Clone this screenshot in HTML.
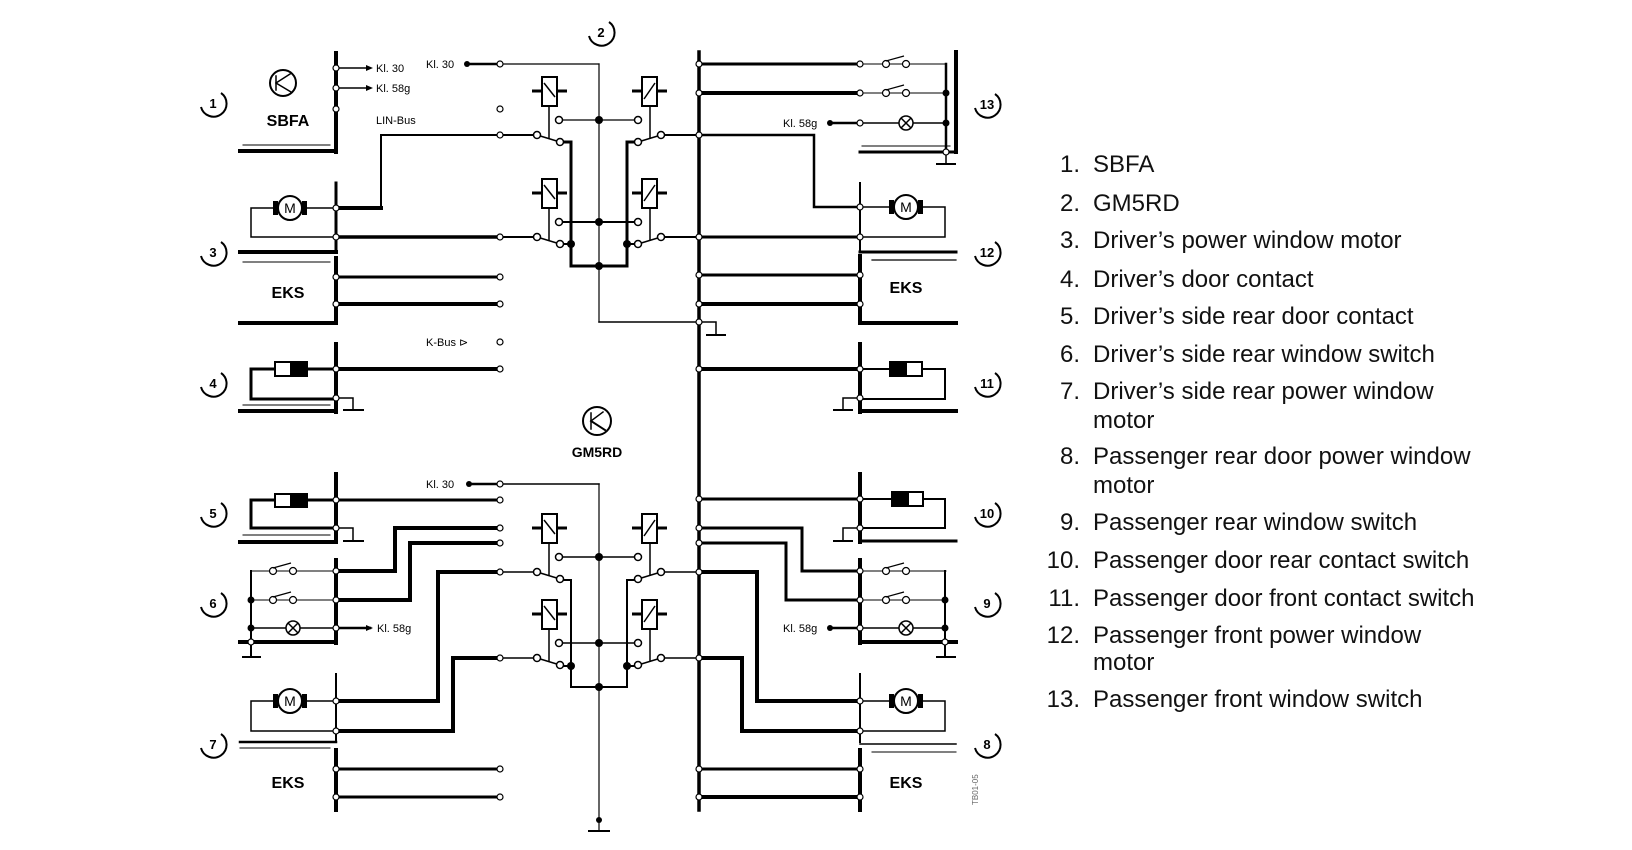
<!DOCTYPE html>
<html><head><meta charset="utf-8"><style>
html,body{margin:0;padding:0;background:#fff;}
svg{display:block;}
.l{font-family:"Liberation Sans",Arial,sans-serif;font-size:24px;fill:#111;}
.s{font-family:"Liberation Sans",Arial,sans-serif;font-size:11px;fill:#000;}
.b{font-family:"Liberation Sans",Arial,sans-serif;font-size:16px;font-weight:bold;fill:#000;}
.n{font-family:"Liberation Sans",Arial,sans-serif;font-size:13px;font-weight:bold;fill:#000;}
</style></head><body>
<svg width="1632" height="850" viewBox="0 0 1632 850" xmlns="http://www.w3.org/2000/svg">
<defs>
<g id="relL">
  <rect x="542" y="0" width="15" height="29" fill="#fff" stroke="#000" stroke-width="2"/>
  <line x1="544" y1="6" x2="555" y2="20" stroke="#000" stroke-width="1.5"/>
  <line x1="532" y1="14" x2="542" y2="14" stroke="#000" stroke-width="3"/>
  <line x1="557" y1="14" x2="567" y2="14" stroke="#000" stroke-width="3"/>
  <line x1="549" y1="29" x2="549" y2="62" stroke="#000" stroke-width="1.5"/>
  <line x1="537" y1="58" x2="560" y2="65" stroke="#000" stroke-width="1.5"/>
  <circle cx="559" cy="43" r="3.5" fill="#fff" stroke="#000" stroke-width="1.5"/>
  <circle cx="537" cy="58" r="3.5" fill="#fff" stroke="#000" stroke-width="1.5"/>
  <circle cx="560" cy="65" r="3.5" fill="#fff" stroke="#000" stroke-width="1.5"/>
</g>
<g id="relR">
  <rect x="642" y="0" width="15" height="29" fill="#fff" stroke="#000" stroke-width="2"/>
  <line x1="644" y1="22" x2="655" y2="6" stroke="#000" stroke-width="1.5"/>
  <line x1="632" y1="14" x2="642" y2="14" stroke="#000" stroke-width="3"/>
  <line x1="657" y1="14" x2="667" y2="14" stroke="#000" stroke-width="3"/>
  <line x1="650" y1="29" x2="650" y2="62" stroke="#000" stroke-width="1.5"/>
  <line x1="661" y1="58" x2="638" y2="65" stroke="#000" stroke-width="1.5"/>
  <circle cx="638" cy="43" r="3.5" fill="#fff" stroke="#000" stroke-width="1.5"/>
  <circle cx="661" cy="58" r="3.5" fill="#fff" stroke="#000" stroke-width="1.5"/>
  <circle cx="638" cy="65" r="3.5" fill="#fff" stroke="#000" stroke-width="1.5"/>
</g>
<g id="motor">
  <circle cx="0" cy="0" r="12" fill="#fff" stroke="#000" stroke-width="2"/>
  <rect x="-17" y="-7" width="5" height="14" fill="#000"/>
  <rect x="12" y="-7" width="5" height="14" fill="#000"/>
  <text x="0" y="5" text-anchor="middle" class="n" style="font-weight:normal;font-size:14px">M</text>
</g>
<g id="lamp">
  <circle cx="0" cy="0" r="7" fill="#fff" stroke="#000" stroke-width="1.5"/>
  <line x1="-5" y1="-5" x2="5" y2="5" stroke="#000" stroke-width="1.5"/>
  <line x1="-5" y1="5" x2="5" y2="-5" stroke="#000" stroke-width="1.5"/>
</g>
<g id="sw">
  <circle cx="-10" cy="0" r="3.5" fill="#fff" stroke="#000" stroke-width="1.2"/>
  <circle cx="10" cy="0" r="3.5" fill="#fff" stroke="#000" stroke-width="1.2"/>
  <line x1="-10" y1="-3" x2="8" y2="-8" stroke="#000" stroke-width="1.2"/>
</g>
<path id="arc" d="M 8 -10 A 13 13 0 1 1 -12 4" fill="none" stroke="#000" stroke-width="2"/>
</defs>

<g stroke="#000" fill="none" stroke-linecap="square">
<!-- ===== LEFT TOP: SBFA ===== -->
<line x1="336" y1="53" x2="336" y2="152" stroke-width="4"/>
<line x1="240" y1="151" x2="336" y2="151" stroke-width="4"/>
<line x1="243" y1="145" x2="330" y2="145" stroke-width="1"/>
<line x1="336" y1="68" x2="370" y2="68" stroke-width="1.5"/>
<line x1="336" y1="88" x2="370" y2="88" stroke-width="1.5"/>
<circle cx="283" cy="83" r="13" stroke-width="2" fill="#fff"/>
<line x1="276" y1="76" x2="276" y2="90" stroke-width="1.5"/>
<line x1="276" y1="83" x2="290" y2="74" stroke-width="1.5"/>
<line x1="276" y1="83" x2="291" y2="92" stroke-width="1.5"/>
<!-- Kl30 top -->
<line x1="467" y1="64" x2="500" y2="64" stroke-width="2.5"/>
<line x1="500" y1="64" x2="599" y2="64" stroke-width="1.2"/>
<line x1="599" y1="64" x2="599" y2="322" stroke-width="1.2"/>
<line x1="599" y1="322" x2="699" y2="322" stroke-width="1.5"/>
<!-- LIN bus -->
<polyline points="500,135 381,135 381,208 336,208" stroke-width="2"/>
<polyline points="336,208 251,208 251,237 336,237" stroke-width="1.5"/>
<line x1="336" y1="208" x2="381" y2="208" stroke-width="4"/>
<line x1="336" y1="237" x2="500" y2="237" stroke-width="3.5"/>
<line x1="336" y1="183" x2="336" y2="252" stroke-width="3"/>
<line x1="240" y1="252" x2="336" y2="252" stroke-width="4"/>
<line x1="243" y1="262" x2="330" y2="262" stroke-width="1"/>
<!-- EKS left top -->
<line x1="336" y1="258" x2="336" y2="323" stroke-width="4"/>
<line x1="240" y1="323" x2="336" y2="323" stroke-width="4"/>
<line x1="336" y1="277" x2="500" y2="277" stroke-width="3"/>
<line x1="336" y1="304" x2="500" y2="304" stroke-width="4"/>
<!-- door contact 4 -->
<line x1="336" y1="344" x2="336" y2="412" stroke-width="4"/>
<line x1="240" y1="411" x2="336" y2="411" stroke-width="4"/>
<line x1="243" y1="405" x2="330" y2="405" stroke-width="1"/>
<polyline points="336,369 251,369 251,399 336,399" stroke-width="3"/>
<line x1="336" y1="369" x2="500" y2="369" stroke-width="4"/>
<polyline points="336,398 353,398 353,410" stroke-width="1.5"/>
<line x1="344" y1="410" x2="363" y2="410" stroke-width="2"/>
<rect x="275" y="362" width="16" height="14" fill="#fff" stroke-width="2"/>
<rect x="291" y="362" width="16" height="14" fill="#000" stroke-width="2"/>

<!-- ===== RELAYS TOP ===== -->
<line x1="500" y1="135" x2="537" y2="135" stroke-width="2"/>
<line x1="661" y1="135" x2="699" y2="135" stroke-width="2"/>
<line x1="500" y1="237" x2="537" y2="237" stroke-width="2"/>
<line x1="661" y1="237" x2="699" y2="237" stroke-width="2"/>
<line x1="559" y1="120" x2="638" y2="120" stroke-width="1.2"/>
<line x1="559" y1="222" x2="638" y2="222" stroke-width="2"/>
<polyline points="564,142 571,142 571,266 627,266 627,142 634,142" stroke-width="3"/>
<line x1="564" y1="244" x2="571" y2="244" stroke-width="2"/>
<line x1="627" y1="244" x2="634" y2="244" stroke-width="2"/>

<!-- ===== RIGHT COLUMN ===== -->
<line x1="699" y1="52" x2="699" y2="810" stroke-width="3.5"/>
<!-- switch 13 -->
<line x1="956" y1="52" x2="956" y2="152" stroke-width="4"/>
<line x1="860" y1="152" x2="956" y2="152" stroke-width="3"/>
<line x1="862" y1="146" x2="950" y2="146" stroke-width="1"/>
<line x1="699" y1="64" x2="860" y2="64" stroke-width="3"/>
<line x1="699" y1="93" x2="860" y2="93" stroke-width="4"/>
<line x1="830" y1="123" x2="860" y2="123" stroke-width="2.5"/>
<line x1="860" y1="64" x2="946" y2="64" stroke-width="1"/>
<line x1="860" y1="93" x2="946" y2="93" stroke-width="1"/>
<line x1="860" y1="123" x2="946" y2="123" stroke-width="1.5"/>
<line x1="946" y1="64" x2="946" y2="152" stroke-width="2.5"/>
<polyline points="946,152 946,163" stroke-width="1.5"/>
<line x1="937" y1="164" x2="955" y2="164" stroke-width="2"/>
<!-- motor 12 -->
<polyline points="699,135 814,135 814,207 860,207" stroke-width="2.5"/>
<polyline points="860,207 945,207 945,237 860,237" stroke-width="1.5"/>
<line x1="699" y1="237" x2="860" y2="237" stroke-width="3"/>
<line x1="860" y1="183" x2="860" y2="252" stroke-width="2"/>
<line x1="860" y1="252" x2="956" y2="252" stroke-width="3"/>
<line x1="872" y1="260" x2="956" y2="260" stroke-width="1.2"/>
<!-- EKS right top -->
<line x1="860" y1="256" x2="860" y2="323" stroke-width="4"/>
<line x1="860" y1="323" x2="956" y2="323" stroke-width="4"/>
<line x1="699" y1="275" x2="860" y2="275" stroke-width="3"/>
<line x1="699" y1="304" x2="860" y2="304" stroke-width="4"/>
<polyline points="699,322 716,322 716,335" stroke-width="1.5"/>
<line x1="707" y1="335" x2="725" y2="335" stroke-width="2"/>
<!-- contact 11 -->
<line x1="860" y1="344" x2="860" y2="412" stroke-width="4"/>
<line x1="860" y1="411" x2="956" y2="411" stroke-width="4"/>
<line x1="699" y1="369" x2="860" y2="369" stroke-width="4"/>
<polyline points="860,369 945,369 945,399 860,399" stroke-width="2"/>
<polyline points="860,398 843,398 843,410" stroke-width="1.5"/>
<line x1="834" y1="410" x2="852" y2="410" stroke-width="2"/>
<rect x="890" y="362" width="16" height="14" fill="#000" stroke-width="2"/>
<rect x="906" y="362" width="16" height="14" fill="#fff" stroke-width="2"/>

<!-- ===== GM5RD symbol ===== -->
<circle cx="597" cy="421" r="14" stroke-width="2" fill="#fff"/>
<line x1="591" y1="413" x2="591" y2="429" stroke-width="1.5"/>
<line x1="591" y1="421" x2="603" y2="412" stroke-width="1.5"/>
<line x1="591" y1="421" x2="605" y2="430" stroke-width="2"/>

<!-- ===== LEFT BOTTOM ===== -->
<line x1="469" y1="484" x2="500" y2="484" stroke-width="2.5"/>
<line x1="500" y1="484" x2="599" y2="484" stroke-width="1.5"/>
<line x1="599" y1="484" x2="599" y2="831" stroke-width="1.2"/>
<line x1="589" y1="831" x2="609" y2="831" stroke-width="2"/>
<!-- contact 5 -->
<line x1="336" y1="474" x2="336" y2="542" stroke-width="4"/>
<line x1="240" y1="542" x2="336" y2="542" stroke-width="4"/>
<line x1="243" y1="535" x2="330" y2="535" stroke-width="1"/>
<polyline points="336,500 251,500 251,528 336,528" stroke-width="3"/>
<line x1="336" y1="500" x2="500" y2="500" stroke-width="3"/>
<polyline points="336,528 353,528 353,541" stroke-width="1.5"/>
<line x1="344" y1="541" x2="363" y2="541" stroke-width="2"/>
<rect x="275" y="494" width="16" height="13" fill="#fff" stroke-width="2"/>
<rect x="291" y="494" width="16" height="13" fill="#000" stroke-width="2"/>
<!-- switch 6 -->
<line x1="336" y1="560" x2="336" y2="643" stroke-width="4"/>
<line x1="240" y1="642" x2="336" y2="642" stroke-width="4"/>
<line x1="251" y1="571" x2="336" y2="571" stroke-width="1"/>
<line x1="251" y1="600" x2="336" y2="600" stroke-width="1"/>
<line x1="251" y1="628" x2="336" y2="628" stroke-width="1.5"/>
<line x1="251" y1="571" x2="251" y2="657" stroke-width="2"/>
<line x1="243" y1="657" x2="260" y2="657" stroke-width="2"/>
<line x1="336" y1="628" x2="370" y2="628" stroke-width="2.5"/>
<polyline points="336,571 395,571 395,528 500,528" stroke-width="4"/>
<polyline points="336,600 410,600 410,543 500,543" stroke-width="4"/>
<!-- motor 7 -->
<line x1="336" y1="674" x2="336" y2="742" stroke-width="2"/>
<polyline points="336,701 251,701 251,731 336,731" stroke-width="1.5"/>
<polyline points="336,701 438,701 438,572 500,572" stroke-width="4"/>
<polyline points="336,731 453,731 453,658 500,658" stroke-width="4"/>
<line x1="240" y1="742" x2="336" y2="742" stroke-width="2.5"/>
<line x1="240" y1="748" x2="330" y2="748" stroke-width="1"/>
<!-- EKS left bottom -->
<line x1="336" y1="750" x2="336" y2="810" stroke-width="4"/>
<line x1="336" y1="769" x2="500" y2="769" stroke-width="3"/>
<line x1="336" y1="797" x2="500" y2="797" stroke-width="3"/>

<!-- ===== RELAYS BOTTOM ===== -->
<line x1="500" y1="572" x2="537" y2="572" stroke-width="1.5"/>
<line x1="661" y1="572" x2="699" y2="572" stroke-width="1.5"/>
<line x1="500" y1="658" x2="537" y2="658" stroke-width="1.5"/>
<line x1="661" y1="658" x2="699" y2="658" stroke-width="1.5"/>
<line x1="559" y1="557" x2="638" y2="557" stroke-width="1.5"/>
<line x1="559" y1="643" x2="638" y2="643" stroke-width="1.5"/>
<polyline points="564,580 571,580 571,687 627,687 627,580 634,580" stroke-width="2"/>
<line x1="564" y1="666" x2="571" y2="666" stroke-width="2"/>
<line x1="627" y1="666" x2="634" y2="666" stroke-width="2"/>

<!-- ===== RIGHT BOTTOM ===== -->
<!-- contact 10 -->
<line x1="860" y1="474" x2="860" y2="542" stroke-width="4"/>
<line x1="860" y1="541" x2="956" y2="541" stroke-width="3"/>
<line x1="699" y1="499" x2="860" y2="499" stroke-width="3"/>
<polyline points="860,499 945,499 945,528 860,528" stroke-width="2"/>
<polyline points="860,528 843,528 843,541" stroke-width="1.5"/>
<line x1="834" y1="541" x2="852" y2="541" stroke-width="2"/>
<rect x="892" y="492" width="16" height="14" fill="#000" stroke-width="2"/>
<rect x="908" y="492" width="15" height="14" fill="#fff" stroke-width="2"/>
<!-- switch 9 -->
<polyline points="699,528 802,528 802,571 860,571" stroke-width="3"/>
<polyline points="699,543 786,543 786,600 860,600" stroke-width="3"/>
<line x1="860" y1="560" x2="860" y2="643" stroke-width="4"/>
<line x1="860" y1="642" x2="956" y2="642" stroke-width="4"/>
<line x1="860" y1="571" x2="946" y2="571" stroke-width="1"/>
<line x1="860" y1="600" x2="946" y2="600" stroke-width="1"/>
<line x1="860" y1="628" x2="946" y2="628" stroke-width="1.5"/>
<line x1="945" y1="571" x2="945" y2="655" stroke-width="2"/>
<line x1="937" y1="657" x2="955" y2="657" stroke-width="2"/>
<line x1="830" y1="628" x2="860" y2="628" stroke-width="2.5"/>
<!-- motor 8 -->
<polyline points="699,572 757,572 757,701 860,701" stroke-width="4"/>
<polyline points="699,658 742,658 742,731 860,731" stroke-width="4"/>
<polyline points="860,701 945,701 945,731 860,731" stroke-width="1.5"/>
<line x1="860" y1="674" x2="860" y2="742" stroke-width="2"/>
<line x1="860" y1="744" x2="956" y2="744" stroke-width="1.5"/>
<line x1="860" y1="750" x2="860" y2="810" stroke-width="4"/>
<line x1="872" y1="752" x2="956" y2="752" stroke-width="1"/>
<line x1="699" y1="769" x2="860" y2="769" stroke-width="3"/>
<line x1="699" y1="797" x2="860" y2="797" stroke-width="4"/>
</g>

<!-- relays -->
<use href="#relL" transform="translate(0,77)"/>
<use href="#relR" transform="translate(0,77)"/>
<use href="#relL" transform="translate(0,179)"/>
<use href="#relR" transform="translate(0,179)"/>
<use href="#relL" transform="translate(0,514)"/>
<use href="#relR" transform="translate(0,514)"/>
<use href="#relL" transform="translate(0,600)"/>
<use href="#relR" transform="translate(0,600)"/>

<!-- motors, lamps, switches -->
<use href="#motor" transform="translate(290,208)"/>
<use href="#motor" transform="translate(906,207)"/>
<use href="#motor" transform="translate(290,701)"/>
<use href="#motor" transform="translate(906,701)"/>
<use href="#lamp" transform="translate(293,628)"/>
<use href="#lamp" transform="translate(906,123)"/>
<use href="#lamp" transform="translate(906,628)"/>
<use href="#sw" transform="translate(283,571)"/>
<use href="#sw" transform="translate(283,600)"/>
<use href="#sw" transform="translate(896,64)"/>
<use href="#sw" transform="translate(896,93)"/>
<use href="#sw" transform="translate(896,571)"/>
<use href="#sw" transform="translate(896,600)"/>

<!-- dots -->
<g fill="#000">
<circle cx="599" cy="120" r="4"/><circle cx="599" cy="222" r="4"/><circle cx="571" cy="244" r="4"/><circle cx="627" cy="244" r="4"/><circle cx="599" cy="266" r="4"/>
<circle cx="599" cy="557" r="4"/><circle cx="599" cy="643" r="4"/><circle cx="571" cy="666" r="4"/><circle cx="627" cy="666" r="4"/><circle cx="599" cy="687" r="4"/><circle cx="599" cy="820" r="3"/>
<circle cx="251" cy="600" r="3.5"/><circle cx="251" cy="628" r="3.5"/><circle cx="945" cy="600" r="3.5"/><circle cx="945" cy="628" r="3.5"/><circle cx="946" cy="93" r="3.5"/><circle cx="946" cy="123" r="3.5"/>
<circle cx="467" cy="64" r="3"/><circle cx="469" cy="484" r="3"/><circle cx="830" cy="123" r="3"/><circle cx="830" cy="628" r="3"/>
<polygon points="373,68 366,65 366,71"/><polygon points="373,88 366,85 366,91"/><polygon points="373,628 366,625 366,631"/>
</g>
<!-- pins -->
<g fill="#fff" stroke="#000" stroke-width="1.2">
<circle cx="336" cy="68" r="3"/><circle cx="336" cy="88" r="3"/><circle cx="336" cy="109" r="3"/>
<circle cx="336" cy="208" r="3"/><circle cx="336" cy="237" r="3"/><circle cx="336" cy="277" r="3"/><circle cx="336" cy="304" r="3"/>
<circle cx="336" cy="369" r="3"/><circle cx="336" cy="398" r="3"/>
<circle cx="336" cy="500" r="3"/><circle cx="336" cy="528" r="3"/><circle cx="336" cy="571" r="3"/><circle cx="336" cy="600" r="3"/><circle cx="336" cy="628" r="3"/>
<circle cx="336" cy="701" r="3"/><circle cx="336" cy="731" r="3"/><circle cx="336" cy="769" r="3"/><circle cx="336" cy="797" r="3"/>
<circle cx="500" cy="64" r="3"/><circle cx="500" cy="109" r="3"/><circle cx="500" cy="135" r="3"/><circle cx="500" cy="237" r="3"/><circle cx="500" cy="277" r="3"/><circle cx="500" cy="304" r="3"/><circle cx="500" cy="342" r="3"/><circle cx="500" cy="369" r="3"/>
<circle cx="500" cy="484" r="3"/><circle cx="500" cy="500" r="3"/><circle cx="500" cy="528" r="3"/><circle cx="500" cy="543" r="3"/><circle cx="500" cy="572" r="3"/><circle cx="500" cy="658" r="3"/><circle cx="500" cy="769" r="3"/><circle cx="500" cy="797" r="3"/>
<circle cx="699" cy="64" r="3"/><circle cx="699" cy="93" r="3"/><circle cx="699" cy="135" r="3"/><circle cx="699" cy="237" r="3"/><circle cx="699" cy="275" r="3"/><circle cx="699" cy="304" r="3"/><circle cx="699" cy="322" r="3"/><circle cx="699" cy="369" r="3"/>
<circle cx="699" cy="499" r="3"/><circle cx="699" cy="528" r="3"/><circle cx="699" cy="543" r="3"/><circle cx="699" cy="572" r="3"/><circle cx="699" cy="658" r="3"/><circle cx="699" cy="769" r="3"/><circle cx="699" cy="797" r="3"/>
<circle cx="860" cy="64" r="3"/><circle cx="860" cy="93" r="3"/><circle cx="860" cy="123" r="3"/><circle cx="860" cy="207" r="3"/><circle cx="860" cy="237" r="3"/><circle cx="860" cy="275" r="3"/><circle cx="860" cy="304" r="3"/><circle cx="860" cy="369" r="3"/><circle cx="860" cy="398" r="3"/>
<circle cx="860" cy="499" r="3"/><circle cx="860" cy="528" r="3"/><circle cx="860" cy="571" r="3"/><circle cx="860" cy="600" r="3"/><circle cx="860" cy="628" r="3"/><circle cx="860" cy="701" r="3"/><circle cx="860" cy="731" r="3"/><circle cx="860" cy="769" r="3"/><circle cx="860" cy="797" r="3"/>
<circle cx="946" cy="152" r="3"/><circle cx="251" cy="642" r="3"/><circle cx="945" cy="642" r="3"/>
</g>

<!-- small labels -->
<text x="376" y="72" class="s">Kl. 30</text>
<text x="376" y="92" class="s">Kl. 58g</text>
<text x="426" y="68" class="s">Kl. 30</text>
<text x="376" y="124" class="s">LIN-Bus</text>
<text x="426" y="346" class="s">K-Bus ⊳</text>
<text x="426" y="488" class="s">Kl. 30</text>
<text x="377" y="632" class="s">Kl. 58g</text>
<text x="783" y="127" class="s">Kl. 58g</text>
<text x="783" y="632" class="s">Kl. 58g</text>
<text x="288" y="126" text-anchor="middle" class="b">SBFA</text>
<text x="288" y="298" text-anchor="middle" class="b">EKS</text>
<text x="288" y="788" text-anchor="middle" class="b">EKS</text>
<text x="906" y="293" text-anchor="middle" class="b">EKS</text>
<text x="906" y="788" text-anchor="middle" class="b">EKS</text>
<text x="597" y="457" text-anchor="middle" class="b" style="font-size:14px">GM5RD</text>

<!-- number callouts -->
<g>
<use href="#arc" transform="translate(601,32)"/><text x="601" y="37" text-anchor="middle" class="n">2</text>
<use href="#arc" transform="translate(213,103)"/><text x="213" y="108" text-anchor="middle" class="n">1</text>
<use href="#arc" transform="translate(213,252)"/><text x="213" y="257" text-anchor="middle" class="n">3</text>
<use href="#arc" transform="translate(213,383)"/><text x="213" y="388" text-anchor="middle" class="n">4</text>
<use href="#arc" transform="translate(213,513)"/><text x="213" y="518" text-anchor="middle" class="n">5</text>
<use href="#arc" transform="translate(213,603)"/><text x="213" y="608" text-anchor="middle" class="n">6</text>
<use href="#arc" transform="translate(213,744)"/><text x="213" y="749" text-anchor="middle" class="n">7</text>
<use href="#arc" transform="translate(987,104)"/><text x="987" y="109" text-anchor="middle" class="n">13</text>
<use href="#arc" transform="translate(987,252)"/><text x="987" y="257" text-anchor="middle" class="n">12</text>
<use href="#arc" transform="translate(987,383)"/><text x="987" y="388" text-anchor="middle" class="n">11</text>
<use href="#arc" transform="translate(987,513)"/><text x="987" y="518" text-anchor="middle" class="n">10</text>
<use href="#arc" transform="translate(987,603)"/><text x="987" y="608" text-anchor="middle" class="n">9</text>
<use href="#arc" transform="translate(987,744)"/><text x="987" y="749" text-anchor="middle" class="n">8</text>
</g>
<text x="0" y="0" transform="translate(978,805) rotate(-90)" class="s" style="font-size:8px;fill:#666">TB01-05</text>

<!-- legend -->
<g class="l">
<text x="1080" y="172" text-anchor="end">1.</text><text x="1093" y="172">SBFA</text>
<text x="1080" y="211" text-anchor="end">2.</text><text x="1093" y="211">GM5RD</text>
<text x="1080" y="248" text-anchor="end">3.</text><text x="1093" y="248">Driver’s power window motor</text>
<text x="1080" y="287" text-anchor="end">4.</text><text x="1093" y="287">Driver’s door contact</text>
<text x="1080" y="324" text-anchor="end">5.</text><text x="1093" y="324">Driver’s side rear door contact</text>
<text x="1080" y="362" text-anchor="end">6.</text><text x="1093" y="362">Driver’s side rear window switch</text>
<text x="1080" y="399" text-anchor="end">7.</text><text x="1093" y="399">Driver’s side rear power window</text>
<text x="1093" y="428">motor</text>
<text x="1080" y="464" text-anchor="end">8.</text><text x="1093" y="464">Passenger rear door power window</text>
<text x="1093" y="493">motor</text>
<text x="1080" y="530" text-anchor="end">9.</text><text x="1093" y="530">Passenger rear window switch</text>
<text x="1080" y="568" text-anchor="end">10.</text><text x="1093" y="568">Passenger door rear contact switch</text>
<text x="1080" y="606" text-anchor="end">11.</text><text x="1093" y="606">Passenger door front contact switch</text>
<text x="1080" y="643" text-anchor="end">12.</text><text x="1093" y="643">Passenger front power window</text>
<text x="1093" y="670">motor</text>
<text x="1080" y="707" text-anchor="end">13.</text><text x="1093" y="707">Passenger front window switch</text>
</g>
</svg>
</body></html>
